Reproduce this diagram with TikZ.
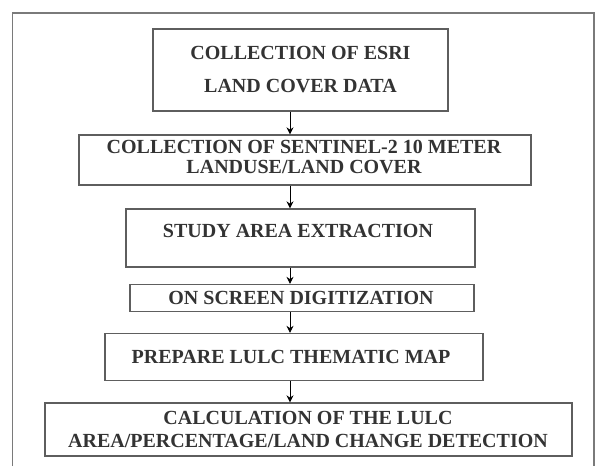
\documentclass[tikz,border=0pt]{standalone}
\usepackage{fontspec}
\setmainfont{Liberation Serif}
\usetikzlibrary{arrows.meta}
\definecolor{boxline}{HTML}{5E5E5E}
\definecolor{frameline}{HTML}{7A7A7A}
\definecolor{txt}{HTML}{333333}
\begin{document}
\begin{tikzpicture}[x=1pt,y=-1pt,
  stepbox/.style={draw=boxline, line width=1.3pt, fill=white, inner sep=0pt},
  lbl/.style={text=txt, font=\bfseries\fontsize{20}{22}\selectfont, inner sep=0pt, anchor=center},
  arr/.style={draw=black, line width=0.9pt, -{Stealth[length=7pt,width=7pt]}}]
\useasboundingbox (0,0) rectangle (602,466);
\fill[white] (0,0) rectangle (602,466);
\draw[frameline, line width=1.6pt] (12.5,466) -- (12.5,13) -- (594,13) -- (594,466);
\node[stepbox, minimum width=295pt, minimum height=82pt] (b1) at (300.5,70) {};
\node[stepbox, minimum width=452pt, minimum height=50pt] (b2) at (305,160) {};
\node[stepbox, minimum width=349pt, minimum height=58pt] (b3) at (300.5,238) {};
\node[stepbox, minimum width=344pt, minimum height=27pt] (b4) at (302,298) {};
\node[stepbox, minimum width=378pt, minimum height=47pt] (b5) at (294,357) {};
\node[stepbox, minimum width=527pt, minimum height=53pt] (b6) at (308.5,429.5) {};
\node[lbl] (t1a) at (300.5,53) {COLLECTION OF ESRI};
\node[lbl] (t1b) at (300.5,86) {LAND COVER DATA};
\node[lbl] (t2a) at (304,147) {COLLECTION OF SENTINEL-2 10 METER};
\node[lbl] (t2b) at (304,167) {LANDUSE/LAND COVER};
\node[lbl] (t3) at (298,231) {STUDY AREA EXTRACTION};
\node[lbl] (t4) at (301,298) {ON SCREEN DIGITIZATION};
\node[lbl] (t5) at (291,357) {PREPARE LULC THEMATIC MAP};
\node[lbl] (t6a) at (308,418) {CALCULATION OF THE LULC};
\node[lbl] (t6b) at (308,441) {AREA/PERCENTAGE/LAND CHANGE DETECTION};
\coordinate (ax) at (290,0);
\draw[arr] (b1.south -| ax) -- (b2.north -| ax);
\draw[arr] (b2.south -| ax) -- (b3.north -| ax);
\draw[arr] (b3.south -| ax) -- (b4.north -| ax);
\draw[arr] (b4.south -| ax) -- (b5.north -| ax);
\draw[arr] (b5.south -| ax) -- (b6.north -| ax);
\end{tikzpicture}
\end{document}
